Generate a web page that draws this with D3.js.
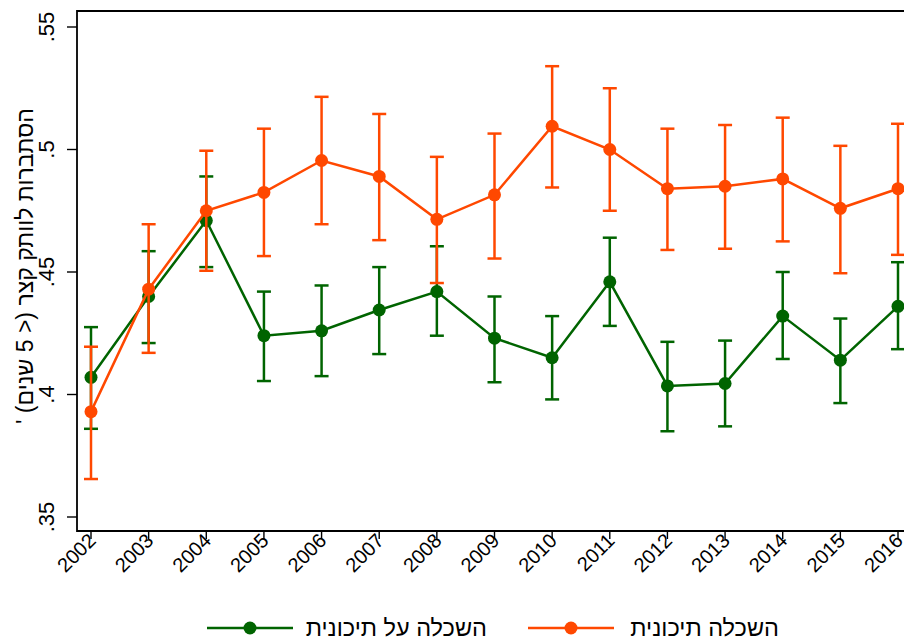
<!DOCTYPE html>
<html>
<head>
<meta charset="utf-8">
<script src="https://cdn.jsdelivr.net/npm/d3@7"></script>
<style>
  body { margin: 0; background: #fff; }
  text { font-family: "Liberation Sans", Arial, sans-serif; fill: #000; }
</style>
</head>
<body>
<script>
// years on the x axis
var years = [2002, 2003, 2004, 2005, 2006, 2007, 2008, 2009, 2010, 2011, 2012, 2013, 2014, 2015, 2016];

// post-secondary education (green)
var postSecMean = [0.407, 0.440, 0.471, 0.424, 0.426, 0.4345, 0.442, 0.423, 0.415, 0.446, 0.4035, 0.4045, 0.432, 0.414, 0.436];
var postSecLow  = [0.386, 0.421, 0.452, 0.4055, 0.4075, 0.4165, 0.424, 0.405, 0.398, 0.428, 0.385, 0.387, 0.4145, 0.3965, 0.4185];
var postSecHigh = [0.4275, 0.4585, 0.489, 0.442, 0.4445, 0.452, 0.4605, 0.440, 0.432, 0.464, 0.4215, 0.422, 0.450, 0.431, 0.454];

// secondary education (orange)
var secMean = [0.393, 0.443, 0.475, 0.4825, 0.4955, 0.489, 0.4715, 0.4815, 0.5095, 0.500, 0.484, 0.485, 0.488, 0.476, 0.484];
var secLow  = [0.3655, 0.417, 0.4505, 0.4565, 0.4695, 0.463, 0.4455, 0.4555, 0.4845, 0.475, 0.459, 0.4595, 0.4625, 0.4495, 0.457];
var secHigh = [0.4195, 0.4695, 0.4995, 0.5085, 0.5215, 0.5145, 0.497, 0.5065, 0.534, 0.525, 0.5085, 0.510, 0.513, 0.5015, 0.5105];

var yTicks = [0.35, 0.4, 0.45, 0.5, 0.55];
var yTitle = "הסתברות לוותק קצר (< 5 שנים) '";
var legendLabels = ["השכלה על תיכונית", "השכלה תיכונית"];

var green = "#006400", orange = "#ff4800";

var W = 904, H = 640;
var svg = d3.select("body").append("svg").attr("width", W).attr("height", H);

var x = d3.scaleLinear().domain([2002, 2016]).range([91, 898]);
var y = d3.scaleLinear().domain([0.35, 0.55]).range([517, 27]);

var plotLeft = 77, plotTop = 11, plotBottom = 531;

// plot frame (right side runs off the page)
svg.append("path")
  .attr("d", "M" + (W + 5) + "," + plotTop + "H" + plotLeft + "V" + plotBottom + "H" + (W + 5))
  .attr("fill", "none").attr("stroke", "#000").attr("stroke-width", 1.8);

// y axis ticks and labels
svg.selectAll(".ytick").data(yTicks).enter().append("line")
  .attr("x1", 67).attr("x2", plotLeft)
  .attr("y1", function (d) { return y(d); }).attr("y2", function (d) { return y(d); })
  .attr("stroke", "#000").attr("stroke-width", 1.4);
svg.selectAll(".ylab").data(yTicks).enter().append("text")
  .attr("transform", function (d) { return "translate(54," + y(d) + ") rotate(-90)"; })
  .attr("text-anchor", "middle")
  .style("font-size", "22px")
  .text(function (d) { return d3.format(".2")(d).replace(/^0/, ""); });

// y axis title
svg.append("text")
  .attr("transform", "translate(33,266) rotate(-90)")
  .attr("text-anchor", "middle")
  .attr("direction", "rtl")
  .style("font-size", "23px")
  .text(yTitle);

// x axis ticks and labels
svg.selectAll(".xtick").data(years).enter().append("line")
  .attr("x1", function (d) { return x(d); }).attr("x2", function (d) { return x(d); })
  .attr("y1", plotBottom).attr("y2", plotBottom + 8)
  .attr("stroke", "#000").attr("stroke-width", 1.4);
svg.selectAll(".xlab").data(years).enter().append("text")
  .attr("transform", function (d) { return "translate(" + (x(d) + 6) + "," + (plotBottom + 11) + ") rotate(-45)"; })
  .attr("text-anchor", "end")
  .style("font-size", "20px")
  .text(function (d) { return d; });

function drawSeries(mean, low, high, color) {
  var g = svg.append("g");
  var rows = years.map(function (yr, i) { return { yr: yr, m: mean[i], lo: low[i], hi: high[i] }; });
  // error bars
  g.selectAll(".ci").data(rows).enter().append("line")
    .attr("x1", function (d) { return x(d.yr); }).attr("x2", function (d) { return x(d.yr); })
    .attr("y1", function (d) { return y(d.lo); }).attr("y2", function (d) { return y(d.hi); })
    .attr("stroke", color).attr("stroke-width", 2.5);
  ["lo", "hi"].forEach(function (k) {
    g.selectAll(".cap" + k).data(rows).enter().append("line")
      .attr("x1", function (d) { return x(d.yr) - 7; }).attr("x2", function (d) { return x(d.yr) + 7; })
      .attr("y1", function (d) { return y(d[k]); }).attr("y2", function (d) { return y(d[k]); })
      .attr("stroke", color).attr("stroke-width", 2.5);
  });
  return { g: g, rows: rows };
}

function drawLine(s, color) {
  var line = d3.line().x(function (d) { return x(d.yr); }).y(function (d) { return y(d.m); });
  s.g.append("path").datum(s.rows)
    .attr("d", line).attr("fill", "none").attr("stroke", color).attr("stroke-width", 2.5);
  s.g.selectAll(".pt").data(s.rows).enter().append("circle")
    .attr("cx", function (d) { return x(d.yr); }).attr("cy", function (d) { return y(d.m); })
    .attr("r", 6.5).attr("fill", color);
}

var sGreen = drawSeries(postSecMean, postSecLow, postSecHigh, green);
var sOrange = drawSeries(secMean, secLow, secHigh, orange);
drawLine(sGreen, green);
drawLine(sOrange, orange);

// legend
var legend = [
  { label: legendLabels[0], color: green, x0: 207, tx: 487 },
  { label: legendLabels[1], color: orange, x0: 528, tx: 779 }
];
legend.forEach(function (d) {
  svg.append("line").attr("x1", d.x0).attr("x2", d.x0 + 86)
    .attr("y1", 628).attr("y2", 628)
    .attr("stroke", d.color).attr("stroke-width", 2.5);
  svg.append("circle").attr("cx", d.x0 + 43).attr("cy", 628).attr("r", 6.5).attr("fill", d.color);
  svg.append("text").attr("x", d.tx).attr("y", 636)
    .attr("text-anchor", "start").attr("direction", "rtl")
    .style("font-size", "23.5px")
    .text(d.label);
});
</script>
</body>
</html>
